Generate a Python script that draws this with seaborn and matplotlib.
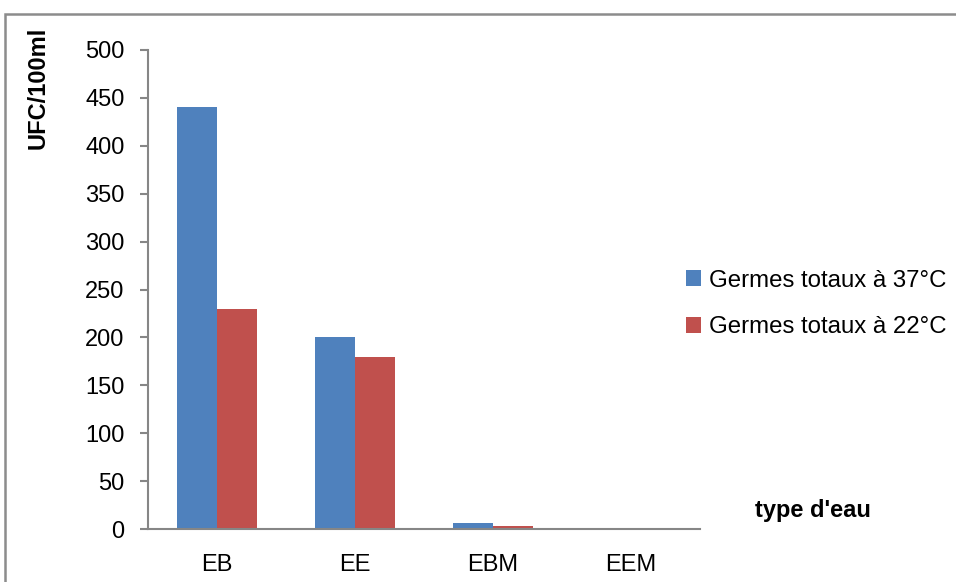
import matplotlib
matplotlib.use("Agg")
import matplotlib.pyplot as plt
from matplotlib.patches import Rectangle
from matplotlib.ticker import FixedLocator, NullFormatter
import seaborn as sns
import pandas as pd

categories = ["EB", "EE", "EBM", "EEM"]
series_names = ["Germes totaux à 37°C", "Germes totaux à 22°C"]
germes_37 = [440, 200, 6, 0]
germes_22 = [230, 180, 3, 0]
y_ticks = [0, 50, 100, 150, 200, 250, 300, 350, 400, 450, 500]

colors = ["#4F81BD", "#C0504D"]
axis_gray = "#868686"
fs = 17

sns.set_theme(style="white")
plt.rcParams["font.family"] = ["Liberation Sans", "DejaVu Sans"]
plt.rcParams["text.color"] = "black"
plt.rcParams["xtick.color"] = "black"
plt.rcParams["ytick.color"] = "black"

df = pd.DataFrame({
    "type": categories * 2,
    "serie": [series_names[0]] * len(categories) + [series_names[1]] * len(categories),
    "ufc": germes_37 + germes_22,
})

fig = plt.figure(figsize=(9.56, 5.82), dpi=100)
ax = fig.add_axes([148 / 956, 1 - 529 / 582, (700 - 148) / 956, (529 - 50) / 582])

sns.barplot(data=df, x="type", y="ufc", hue="serie", order=categories,
            hue_order=series_names, palette=colors, width=0.575, gap=0,
            saturation=1, linewidth=0, ax=ax, legend=True)

ax.set_xlim(-0.5, len(categories) - 0.5)
ax.set_ylim(0, 500)
ax.set_yticks(y_ticks)
ax.set_yticklabels([str(v) for v in y_ticks], fontsize=fs)
ax.set_xticks(range(len(categories)))
ax.set_xticklabels(categories, fontsize=fs)
ax.xaxis.set_minor_locator(FixedLocator([i - 0.5 for i in range(len(categories) + 1)]))
ax.xaxis.set_minor_formatter(NullFormatter())
ax.tick_params(axis="x", which="major", length=0, pad=18, labelcolor="black")
ax.tick_params(axis="x", which="minor", length=6, width=1.5, color=axis_gray, direction="out")
ax.tick_params(axis="y", length=6, width=1.5, color=axis_gray, direction="out", pad=11,
               left=True, labelcolor="black")

for side in ["top", "right"]:
    ax.spines[side].set_visible(False)
for side in ["left", "bottom"]:
    ax.spines[side].set_color(axis_gray)
    ax.spines[side].set_linewidth(1.5)

ax.set_xlabel("")
ax.set_ylabel("")
fig.text(38 / 956, 1 - 88 / 582, "UFC/100ml", rotation=90, fontsize=fs,
         fontweight="bold", ha="center", va="center", color="black")
fig.text(813 / 956, 1 - 510 / 582, "type d'eau", fontsize=fs,
         fontweight="bold", ha="center", va="center", color="black")

handles, labels = ax.get_legend_handles_labels()
leg = ax.legend(handles, labels, loc="center left", bbox_to_anchor=(686 / 956, 1 - 304 / 582),
                bbox_transform=fig.transFigure, frameon=False, fontsize=fs + 0.3,
                handlelength=0.64, handleheight=0.64, handletextpad=0.3,
                labelspacing=1.02, borderpad=0, borderaxespad=0)
for t in leg.get_texts():
    t.set_color("black")

# outer chart-area frame
fig.patches.append(Rectangle((5 / 956, -0.2), 2.0, (1 - 13.5 / 582) + 0.2,
                             transform=fig.transFigure, fill=False,
                             edgecolor="#8c8c8c", linewidth=1.8))

fig.savefig("out.png", dpi=100)
